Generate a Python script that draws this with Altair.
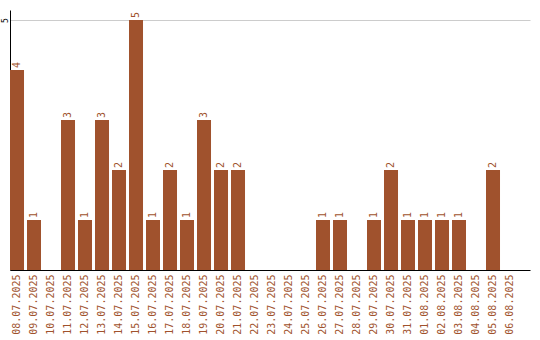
import altair as alt
import pandas as pd

dates = ["08.07.2025", "09.07.2025", "10.07.2025", "11.07.2025", "12.07.2025",
         "13.07.2025", "14.07.2025", "15.07.2025", "16.07.2025", "17.07.2025",
         "18.07.2025", "19.07.2025", "20.07.2025", "21.07.2025", "22.07.2025",
         "23.07.2025", "24.07.2025", "25.07.2025", "26.07.2025", "27.07.2025",
         "28.07.2025", "29.07.2025", "30.07.2025", "31.07.2025", "01.08.2025",
         "02.08.2025", "03.08.2025", "04.08.2025", "05.08.2025", "06.08.2025"]
counts = [4, 1, 0, 3, 1, 3, 2, 5, 1, 2, 1, 3, 2, 2, 0,
          0, 0, 0, 1, 1, 0, 1, 2, 1, 1, 1, 1, 0, 2, 0]

df = pd.DataFrame({"date": dates, "count": counts})
COLOR = "#a0522d"
FONT = "DejaVu Sans Mono"

xenc = alt.X("date:N", sort=dates, title=None,
             scale=alt.Scale(paddingInner=0.176, paddingOuter=0.382, align=0),
             axis=alt.Axis(labelAngle=270, labelColor=COLOR, labelFont=FONT,
                           labelFontSize=10, ticks=False, domainColor="#000",
                           labelPadding=4, grid=False))
yenc = alt.Y("count:Q", title=None,
             scale=alt.Scale(domain=[0, 5.2], nice=False),
             axis=alt.Axis(values=[5], labelAngle=270, labelFont=FONT,
                           labelFontSize=8, labelColor="#000", ticks=False,
                           domainColor="#000", gridColor="#cccccc",
                           labelAlign="center", labelBaseline="alphabetic",
                           labelPadding=3))

bars = alt.Chart(df).mark_bar(color=COLOR).encode(x=xenc, y=yenc)
labels = alt.Chart(df).transform_filter("datum.count > 0").mark_text(
    angle=270, align="left", baseline="middle", dx=2, color=COLOR,
    font=FONT, fontSize=10
).encode(x=alt.X("date:N", sort=dates), y="count:Q", text="count:Q")

chart = (bars + labels).properties(
    width=520, height=260,
    autosize=alt.AutoSizeParams(type="none"),
    padding={"left": 10, "top": 10, "right": 10, "bottom": 70},
).configure(background="white").configure_view(stroke=None)

chart.save("out.html", embed_options={"renderer": "svg", "actions": False})
